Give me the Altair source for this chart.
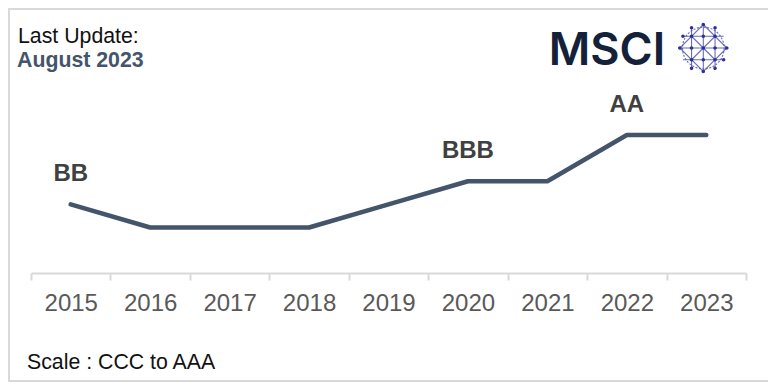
import altair as alt
import pandas as pd

# ---- data ----
years = ["2015", "2016", "2017", "2018", "2019", "2020", "2021", "2022", "2023"]
ratings = ["BB", "B", "B", "B", "BB", "BBB", "BBB", "AA", "AA"]
scale_levels = ["CCC", "B", "BB", "BBB", "A", "AA", "AAA"]
label_years = ["2015", "2020", "2022"]
label_texts = ["BB", "BBB", "AA"]
update_title = ["Last Update:"]
update_date = ["August 2023"]
scale_note = ["Scale : CCC to AAA"]
brand = ["MSCI"]

line_df = pd.DataFrame({
    "year": years,
    "rating": ratings,
    "score": [scale_levels.index(r) for r in ratings],
})
lab_df = pd.DataFrame({
    "year": label_years,
    "text": label_texts,
    "score": [scale_levels.index(t) for t in label_texts],
})

LINE_COLOR = "#44546a"
FONT = "Liberation Sans"

x_enc = alt.X(
    "year:O",
    sort=years,
    scale=alt.Scale(type="band", paddingInner=0, paddingOuter=0),
    axis=alt.Axis(
        title=None, labelAngle=0, tickBand="extent", grid=False,
        domainColor="#d9d9d9", domainWidth=2,
        tickColor="#d9d9d9", tickWidth=2, tickSize=7,
        labelFont=FONT, labelFontSize=24, labelColor="#595959",
        labelBaseline="alphabetic", labelPadding=30,
    ),
)
y_enc = alt.Y("score:Q", scale=alt.Scale(domain=[0, 6], range=[242.6, 103.9]), axis=None)

line = alt.Chart(line_df).mark_line(
    color=LINE_COLOR, strokeWidth=4.5, strokeCap="round", strokeJoin="round"
).encode(x=x_enc, y=y_enc)

labels = alt.Chart(lab_df).mark_text(
    font=FONT, fontSize=24, fontWeight="bold", color="#404040",
    baseline="alphabetic", align="center", dy=-23,
).encode(x=alt.X("year:O", sort=years), y=y_enc, text="text:N")

def single_text(values, x, y, **kw):
    return alt.Chart(pd.DataFrame({"t": values})).mark_text(
        baseline="alphabetic", **kw
    ).encode(text="t:N", x=alt.value(x), y=alt.value(y))

t_update = single_text(update_title, -13, 35, font=FONT, fontSize=21.3, color="#111111", align="left")
t_date = single_text(update_date, -14, 59, font=FONT, fontSize=21.3, fontWeight="bold", color=LINE_COLOR, align="left")
t_scale = single_text(scale_note, -4, 361, font=FONT, fontSize=21.3, color="#111111", align="left")
t_brand = single_text(brand, 576, 57, font="Inter", fontSize=45, fontWeight=600, color="#14213a", align="center")

# globe icon (decoration)
one = pd.DataFrame({"k": [0]})
globe_lines = ("M-0.5,-0.866L-0.5,0.866M0,-1L0,1M0.5,-0.866L0.5,0.866"
               "M-0.866,-0.5L0.866,-0.5M-1,0L1,0M-0.866,0.5L0.866,0.5"
               "M0,-1L1,0L0,1L-1,0Z M-0.5,-0.5L0.5,0.5M0.5,-0.5L-0.5,0.5")
dot_pts = [(0, 0), (-0.5, -0.5), (0.5, -0.5), (-0.5, 0.5), (0.5, 0.5), (0, -0.5), (0, 0.5),
           (-0.5, 0), (0.5, 0), (0, -1), (1, 0), (-1, 0), (0, 1), (0.5, -0.866), (-0.5, -0.866),
           (0.5, 0.866), (-0.5, 0.866), (0.866, 0.5), (-0.866, -0.5)]
r = 0.075
dots_path = "".join(
    f"M{x - r:.3f},{y:.3f}A{r},{r},0,1,0,{x + r:.3f},{y:.3f}A{r},{r},0,1,0,{x - r:.3f},{y:.3f}Z"
    for x, y in dot_pts
)
gx, gy = 672.3, 40
globe_circle = alt.Chart(one).mark_point(
    shape="circle", size=1735, filled=False, stroke="#6a6fc0", strokeWidth=1.2,
    strokeDash=[2, 1.5], opacity=1,
).encode(x=alt.value(gx), y=alt.value(gy))
globe_grid = alt.Chart(one).mark_point(
    shape=globe_lines, size=2209, filled=False, stroke="#5a5fb0", strokeWidth=1.1, opacity=0.9,
).encode(x=alt.value(gx), y=alt.value(gy))
globe_dots = alt.Chart(one).mark_point(
    shape=dots_path, size=2209, filled=True, fill="#2e3192", strokeWidth=0, opacity=1,
).encode(x=alt.value(gx), y=alt.value(gy))

border = alt.Chart(one).mark_rect(
    fillOpacity=0, stroke="#d9d9d9", strokeWidth=2
).encode(x=alt.value(-22), x2=alt.value(800), y=alt.value(1), y2=alt.value(373))

chart = alt.layer(
    border, line, labels, t_update, t_date, t_scale, t_brand,
    globe_circle, globe_grid, globe_dots,
).properties(
    width=715, height=265,
    autosize=alt.AutoSizeParams(type="none"),
    padding={"left": 23, "top": 0, "right": 22, "bottom": 109},
    background="white",
).configure_view(stroke=None)

chart.save("out.html", embed_options={"renderer": "svg", "actions": False})
